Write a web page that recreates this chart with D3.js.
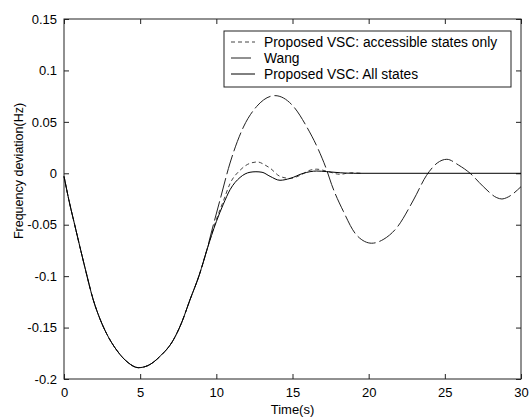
<!DOCTYPE html>
<html>
<head>
<meta charset="utf-8">
<script src="https://cdn.jsdelivr.net/npm/d3@7"></script>
<style>
  body { margin: 0; background: #fff; }
  text { font-family: Arial, "Liberation Sans", sans-serif; }
</style>
</head>
<body>
<div id="chart"></div>
<script>
// shared first part of the response (all three curves overlap here)
const commonT = [0, 0.35, 0.7, 1.1, 1.38, 1.92, 2.4, 2.8, 3.46, 4.2, 4.88, 5.5, 6.3, 7.18, 7.7, 8.27, 8.9, 9.37];
const commonV = [-0.003, -0.028, -0.05, -0.075, -0.092, -0.123, -0.143, -0.156, -0.172, -0.184, -0.189, -0.187, -0.178, -0.162, -0.146, -0.123, -0.098, -0.075];

// Wang
const wangT = [9.7, 10.24, 10.9, 11.78, 12.65, 13.85, 15.06, 15.94, 16.7, 17.25, 17.57, 18.34, 19.2, 20.2, 21.0, 21.84, 22.94, 23.8, 24.5, 25.13, 25.9, 26.66, 27.53, 28.41, 28.75, 29.06, 30];
const wangV = [-0.056, -0.026, 0.010, 0.045, 0.065, 0.0755, 0.065, 0.045, 0.023, 0.003, -0.011, -0.037, -0.060, -0.068, -0.064, -0.053, -0.026, -0.002, 0.010, 0.0136, 0.008, 0, -0.013, -0.0237, -0.025, -0.0237, -0.013];

// Proposed VSC: accessible states only
const accT = [10.0, 10.46, 10.9, 11.56, 12.21, 12.7, 13.2, 13.53, 14.18, 14.84, 15.5, 16.15, 16.59, 17.25, 18.13, 18.8, 19.5];
const accV = [-0.045, -0.027, -0.010, 0.003, 0.0097, 0.011, 0.008, 0.005, -0.003, -0.005, -0.002, 0.003, 0.004, 0.002, -0.001, 0.0005, 0];

// Proposed VSC: All states
const allT = [10.0, 10.46, 10.9, 11.56, 12.21, 12.6, 13.0, 13.53, 14.18, 14.84, 15.71, 16.59, 17.25, 18.13, 19.0, 30];
const allV = [-0.047, -0.030, -0.016, -0.004, 0.001, 0.0015, 0.001, -0.003, -0.0068, -0.005, 0, 0.0022, 0.0016, 0.0005, 0, 0];

const xTicks = [0, 5, 10, 15, 20, 25, 30];
const yTicks = [-0.2, -0.15, -0.1, -0.05, 0, 0.05, 0.1, 0.15];
const legendLabels = ["Proposed VSC: accessible states only", "Wang", "Proposed VSC: All states"];

const W = 531, H = 419;
const margin = {top: 19, right: 10, bottom: 40, left: 64};
const width = W - margin.left - margin.right,
      height = H - margin.top - margin.bottom;

const svg = d3.select("#chart").append("svg")
  .attr("width", W).attr("height", H);
const g = svg.append("g").attr("transform", "translate(" + margin.left + "," + margin.top + ")");

const x = d3.scaleLinear().domain([0, 30]).range([0, width]);
const y = d3.scaleLinear().domain([-0.2, 0.15]).range([height, 0]);

function pts(ts, vs){ return ts.map((t, i) => [t, vs[i]]); }
const common = pts(commonT, commonV);
const series = [
  {name: legendLabels[0], data: common.concat(pts(accT, accV)), dash: "4,3", color: "#444"},
  {name: legendLabels[1], data: common.concat(pts(wangT, wangV)), dash: "20,4", color: "#222"},
  {name: legendLabels[2], data: common.concat(pts(allT, allV)), dash: null, color: "#000"}
];

const fmt = d => String(+d.toFixed(2));
const tickLen = 5;

// axes (MATLAB style, ticks inside on all four sides)
const axisStyle = sel => {
  sel.selectAll(".domain").remove();
  sel.selectAll("line").attr("stroke", "#222");
  sel.selectAll("text").attr("fill", "#000").style("font-size", "13px");
};
g.append("g").attr("transform", "translate(0," + height + ")")
  .call(d3.axisBottom(x).tickValues(xTicks).tickFormat(fmt).tickSizeInner(-tickLen).tickSizeOuter(0).tickPadding(9))
  .call(axisStyle);
g.append("g")
  .call(d3.axisTop(x).tickValues(xTicks).tickFormat("").tickSizeInner(-tickLen).tickSizeOuter(0))
  .call(axisStyle);
g.append("g")
  .call(d3.axisLeft(y).tickValues(yTicks).tickFormat(fmt).tickSizeInner(-tickLen).tickSizeOuter(0).tickPadding(7))
  .call(axisStyle);
g.append("g").attr("transform", "translate(" + width + ",0)")
  .call(d3.axisRight(y).tickValues(yTicks).tickFormat("").tickSizeInner(-tickLen).tickSizeOuter(0))
  .call(axisStyle);

g.append("rect").attr("width", width).attr("height", height)
  .attr("fill", "none").attr("stroke", "#222").attr("stroke-width", 1);

// curves
const line = d3.line().x(d => x(d[0])).y(d => y(d[1])).curve(d3.curveMonotoneX);
g.append("g").selectAll("path")
  .data(series)
  .enter()
  .append("path")
    .attr("d", d => line(d.data))
    .attr("fill", "none")
    .attr("stroke", d => d.color)
    .attr("stroke-width", 1)
    .attr("stroke-dasharray", d => d.dash);

// axis titles
svg.append("text")
  .attr("x", margin.left + width / 2).attr("y", 414)
  .attr("text-anchor", "middle").style("font-size", "13px")
  .text("Time(s)");
svg.append("text")
  .attr("transform", "translate(23,171) rotate(-90)")
  .attr("text-anchor", "middle").style("font-size", "12.5px")
  .text("Frequency deviation(Hz)");

// legend
const leg = svg.append("g").attr("transform", "translate(224,31)");
leg.append("rect").attr("width", 287).attr("height", 56)
  .attr("fill", "#fff").attr("stroke", "#222").attr("stroke-width", 1);
const items = leg.selectAll(".item")
  .data(series)
  .enter()
  .append("g")
    .attr("transform", (d, i) => "translate(0," + (11 + i * 16) + ")");
items.append("line")
  .attr("x1", 7).attr("x2", 31)
  .attr("stroke", d => d.color)
  .attr("stroke-dasharray", d => d.dash);
items.append("text")
  .attr("x", 40).attr("dy", "0.35em")
  .style("font-size", "13.8px")
  .text(d => d.name);
</script>
</body>
</html>
